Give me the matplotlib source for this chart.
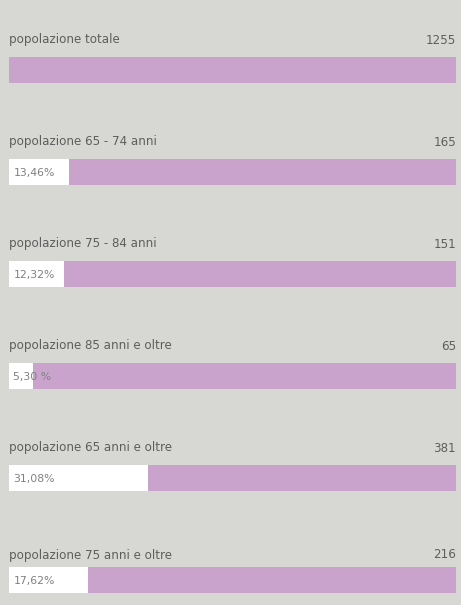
import matplotlib.pyplot as plt

# dati
etichette = ['popolazione totale', 'popolazione 65 - 74 anni', 'popolazione 75 - 84 anni',
             'popolazione 85 anni e oltre', 'popolazione 65 anni e oltre', 'popolazione 75 anni e oltre']
valori = [1255, 165, 151, 65, 381, 216]
percentuali = [None, 13.46, 12.32, 5.30, 31.08, 17.62]
testi_perc = [None, '13,46%', '12,32%', '5,30 %', '31,08%', '17,62%']

sfondo = '#d7d7d3'
viola = '#c9a3cc'
grigio = '#5e5e5e'

fig = plt.figure(figsize=(4.61, 6.05), dpi=100, facecolor=sfondo)
ax = fig.add_axes([9 / 461, 0, 447 / 461, 1])
ax.set_facecolor(sfondo)
ax.set_xlim(0, 100)
ax.set_ylim(605, 0)  # scala in pixel verticali
ax.axis('off')

altezza = 26
for i, (lab, val, p, tp) in enumerate(zip(etichette, valori, percentuali, testi_perc)):
    yc = 70 + i * 102
    ax.barh(yc, 100, height=altezza, color=viola, edgecolor='none')
    if p is not None:
        ax.barh(yc, p, height=altezza, color='white', edgecolor='none')
        ax.text(1.0, yc + 1, tp, fontsize=7.8, color='#808080', va='center', ha='left',
                family='DejaVu Sans')
    dy = 25 if i == 5 else 30
    ax.text(0, yc - dy, lab, fontsize=8.6, color=grigio, va='center', ha='left',
            family='DejaVu Sans')
    ax.text(100, yc - dy, str(val), fontsize=8.6, color=grigio, va='center', ha='right',
            family='DejaVu Sans')

fig.savefig('out.png', dpi=100, facecolor=sfondo)
